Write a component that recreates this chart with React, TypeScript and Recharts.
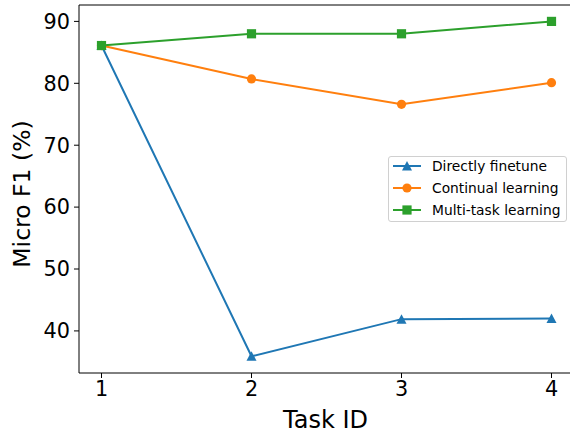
import React from "react";
import { Legend, Line, LineChart, ReferenceLine, XAxis, YAxis } from "recharts";

const taskIds = [1, 2, 3, 4];
const directlyFinetune = [86.1, 35.9, 41.9, 42.0];
const continualLearning = [86.1, 80.7, 76.6, 80.1];
const multiTaskLearning = [86.1, 88.0, 88.0, 90.0];
const yTicks = [40, 50, 60, 70, 80, 90];

const Y_MIN = 33.2;
const Y_MAX = 92.65;

const data = taskIds.map((t, i) => ({
  task: t,
  direct: directlyFinetune[i],
  continual: continualLearning[i],
  multi: multiTaskLearning[i]
}));

const BLUE = "#1f77b4";
const ORANGE = "#ff7f0e";
const GREEN = "#2ca02c";
const FONT = "DejaVu Sans, sans-serif";

function Triangle({ cx, cy, color }: any) {
  if (cx == null || cy == null) return null;
  return <path d={`M${cx},${cy - 5} L${cx - 5},${cy + 4.5} L${cx + 5},${cy + 4.5} Z`} fill={color} />;
}

function Circle({ cx, cy, color }: any) {
  if (cx == null || cy == null) return null;
  return <circle cx={cx} cy={cy} r={4.6} fill={color} />;
}

function Square({ cx, cy, color }: any) {
  if (cx == null || cy == null) return null;
  return <rect x={cx - 4.6} y={cy - 4.6} width={9.2} height={9.2} fill={color} />;
}

const legendItems = [
  { label: "Directly finetune", color: BLUE, Marker: Triangle },
  { label: "Continual learning", color: ORANGE, Marker: Circle },
  { label: "Multi-task learning", color: GREEN, Marker: Square }
];

function LegendBox() {
  return (
    <div
      style={{
        width: 177,
        height: 64,
        border: "1px solid #d0d0d0",
        borderRadius: 3,
        background: "rgba(255,255,255,0.8)"
      }}
    >
      <svg width={177} height={64}>
        {legendItems.map((it, i) => {
          const y = 9 + i * 22;
          return (
            <g key={it.label}>
              <line x1={4} x2={32} y1={y} y2={y} stroke={it.color} strokeWidth={2} />
              <it.Marker cx={18} cy={y} color={it.color} />
              <text x={43} y={y + 5} fontSize={13.8} fontFamily={FONT} fill="#000">
                {it.label}
              </text>
            </g>
          );
        })}
      </svg>
    </div>
  );
}

export default function App() {
  return (
    <div style={{ position: "absolute", left: 0, top: 0, width: 570, height: 435, overflow: "hidden", background: "#fff" }}>
      <LineChart width={600} height={435} data={data} margin={{ top: 5, right: 26, left: 0, bottom: 0 }}>
        <XAxis
          dataKey="task"
          type="number"
          domain={[0.85, 4.15]}
          ticks={taskIds}
          allowDataOverflow
          height={62}
          stroke="#000"
          tickSize={5}
          tickMargin={3}
          tick={{ fontSize: 20.8, fontFamily: FONT, fill: "#000" }}
          label={(props: any) => {
            const vb = props.viewBox;
            return (
              <text x={vb.x + vb.width / 2 - 1} y={vb.y + 55} textAnchor="middle" fontSize={24} fontFamily={FONT} fill="#000">
                Task ID
              </text>
            );
          }}
        />
        <YAxis
          type="number"
          domain={[Y_MIN, Y_MAX]}
          ticks={yTicks}
          allowDataOverflow
          width={79}
          stroke="#000"
          tickSize={5}
          tickMargin={4}
          tick={{ fontSize: 20.8, fontFamily: FONT, fill: "#000" }}
          label={(props: any) => {
            const vb = props.viewBox;
            const cy = vb.y + vb.height / 2 + 5;
            return (
              <text
                x={22}
                y={cy}
                transform={`rotate(-90, 22, ${cy})`}
                textAnchor="middle"
                dominantBaseline="central"
                fontSize={23.5}
                fontFamily={FONT}
                fill="#000"
              >
                Micro F1 (%)
              </text>
            );
          }}
        />
        <ReferenceLine y={Y_MAX} stroke="#000" strokeWidth={1} />
        <Legend
          layout="horizontal"
          verticalAlign="middle"
          align="center"
          content={() => <LegendBox />}
          wrapperStyle={{ position: "absolute", left: 388, top: 156, width: 179 }}
        />
        <Line
          dataKey="direct"
          name="Directly finetune"
          stroke={BLUE}
          strokeWidth={2}
          dot={(p: any) => <Triangle key={p.index} cx={p.cx} cy={p.cy} color={BLUE} />}
          activeDot={false}
          isAnimationActive={false}
        />
        <Line
          dataKey="continual"
          name="Continual learning"
          stroke={ORANGE}
          strokeWidth={2}
          dot={(p: any) => <Circle key={p.index} cx={p.cx} cy={p.cy} color={ORANGE} />}
          activeDot={false}
          isAnimationActive={false}
        />
        <Line
          dataKey="multi"
          name="Multi-task learning"
          stroke={GREEN}
          strokeWidth={2}
          dot={(p: any) => <Square key={p.index} cx={p.cx} cy={p.cy} color={GREEN} />}
          activeDot={false}
          isAnimationActive={false}
        />
      </LineChart>
    </div>
  );
}
